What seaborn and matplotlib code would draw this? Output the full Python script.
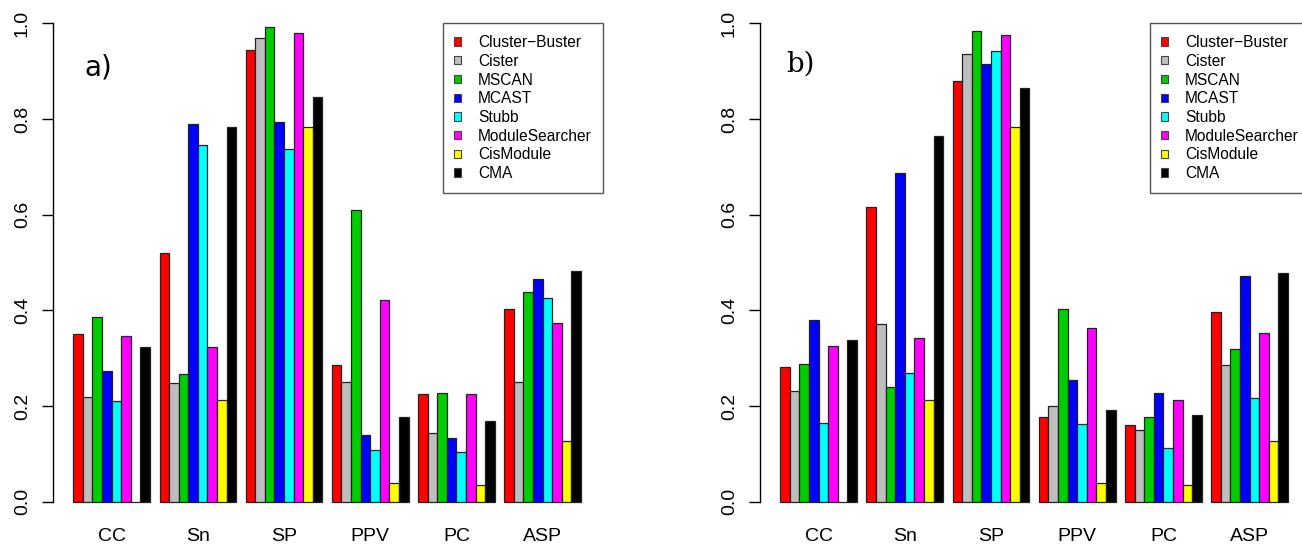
import numpy as np
import pandas as pd
import matplotlib
matplotlib.use("Agg")
import matplotlib.pyplot as plt
from matplotlib.patches import Patch
import seaborn as sns

# --- data ---
metrics = ["CC", "Sn", "SP", "PPV", "PC", "ASP"]
methods = ["Cluster\u2212Buster", "Cister", "MSCAN", "MCAST", "Stubb",
           "ModuleSearcher", "CisModule", "CMA"]
colors = ["#FF0000", "#BEBEBE", "#00CD00", "#0000FF", "#00FFFF",
          "#FF00FF", "#FFFF00", "#000000"]

# panel a)
a_cc = [0.350, 0.218, 0.387, 0.274, 0.211, 0.347, 0.0, 0.323]
a_sn = [0.519, 0.248, 0.267, 0.790, 0.745, 0.323, 0.213, 0.784]
a_sp = [0.945, 0.969, 0.993, 0.794, 0.738, 0.980, 0.784, 0.846]
a_ppv = [0.285, 0.251, 0.609, 0.140, 0.107, 0.422, 0.039, 0.177]
a_pc = [0.225, 0.143, 0.228, 0.134, 0.103, 0.225, 0.035, 0.169]
a_asp = [0.403, 0.251, 0.438, 0.465, 0.426, 0.373, 0.127, 0.482]

# panel b)
b_cc = [0.282, 0.231, 0.288, 0.380, 0.165, 0.326, 0.0, 0.337]
b_sn = [0.616, 0.371, 0.239, 0.688, 0.269, 0.343, 0.213, 0.765]
b_sp = [0.880, 0.937, 0.985, 0.915, 0.942, 0.975, 0.784, 0.864]
b_ppv = [0.178, 0.200, 0.402, 0.255, 0.162, 0.363, 0.039, 0.192]
b_pc = [0.160, 0.150, 0.176, 0.228, 0.112, 0.213, 0.034, 0.181]
b_asp = [0.397, 0.286, 0.320, 0.471, 0.216, 0.353, 0.127, 0.478]

y_ticks = [0.0, 0.2, 0.4, 0.6, 0.8, 1.0]


def to_long(series):
    rows = []
    for metric, vals in zip(metrics, series):
        for method, v in zip(methods, vals):
            rows.append({"metric": metric, "method": method, "value": v})
    return pd.DataFrame(rows)


def draw_panel(ax, df, tag, tag_font, tag_xy):
    sns.barplot(data=df, x="metric", y="value", hue="method",
                order=metrics, hue_order=methods, palette=colors,
                width=8 / 9, gap=0, saturation=1, dodge=True,
                edgecolor="#222222", linewidth=0.9, legend=False, ax=ax)
    ax.set_xlim(-0.68, 5.68)
    ax.set_ylim(-0.04, 1.04)
    for s in ["top", "right", "bottom"]:
        ax.spines[s].set_visible(False)
    ax.spines["left"].set_bounds(0, 1)
    ax.spines["left"].set_linewidth(1.0)
    ax.spines["left"].set_color("black")
    ax.set_yticks(y_ticks)
    ax.set_yticklabels([f"{t:.1f}" for t in y_ticks], rotation=90, va="center")
    ax.tick_params(axis="y", length=8, width=1.0, pad=8, labelsize=14,
                   color="black", labelcolor="black", left=True)
    ax.tick_params(axis="x", length=0, pad=5, labelsize=14, labelcolor="black")
    ax.set_xlabel("")
    ax.set_ylabel("")

    handles = [Patch(facecolor=c, edgecolor="#444444", linewidth=0.8) for c in colors]
    leg = ax.legend(handles, methods, loc="upper left",
                    bbox_to_anchor=(0.711, 1.0),
                    bbox_transform=ax.get_yaxis_transform(),
                    fontsize=11.2, frameon=True, fancybox=False, framealpha=1,
                    edgecolor="#555555", borderaxespad=0, borderpad=0.75,
                    handlelength=0.45, handleheight=0.45, handletextpad=1.05,
                    labelspacing=0.24, labelcolor="black")
    leg.get_frame().set_linewidth(1.0)

    ax.text(tag_xy[0], tag_xy[1], tag, transform=ax.transAxes,
            ha="center", va="center", fontsize=20, family=tag_font,
            color="black")


sns.set_style("white")
plt.rcParams["font.family"] = ["Liberation Sans", "DejaVu Sans"]

fig = plt.figure(figsize=(13.02, 5.46), dpi=100)
ax_a = fig.add_axes([0.0407, 0.0462, 0.4211, 0.946])
ax_b = fig.add_axes([0.5837, 0.0462, 0.4211, 0.946])

draw_panel(ax_a, to_long([a_cc, a_sn, a_sp, a_ppv, a_pc, a_asp]), "a)",
           "DejaVu Sans", (0.082, 0.878))
draw_panel(ax_b, to_long([b_cc, b_sn, b_sp, b_ppv, b_pc, b_asp]), "b)",
           "DejaVu Serif", (0.073, 0.884))

fig.savefig("out.png", dpi=100)
